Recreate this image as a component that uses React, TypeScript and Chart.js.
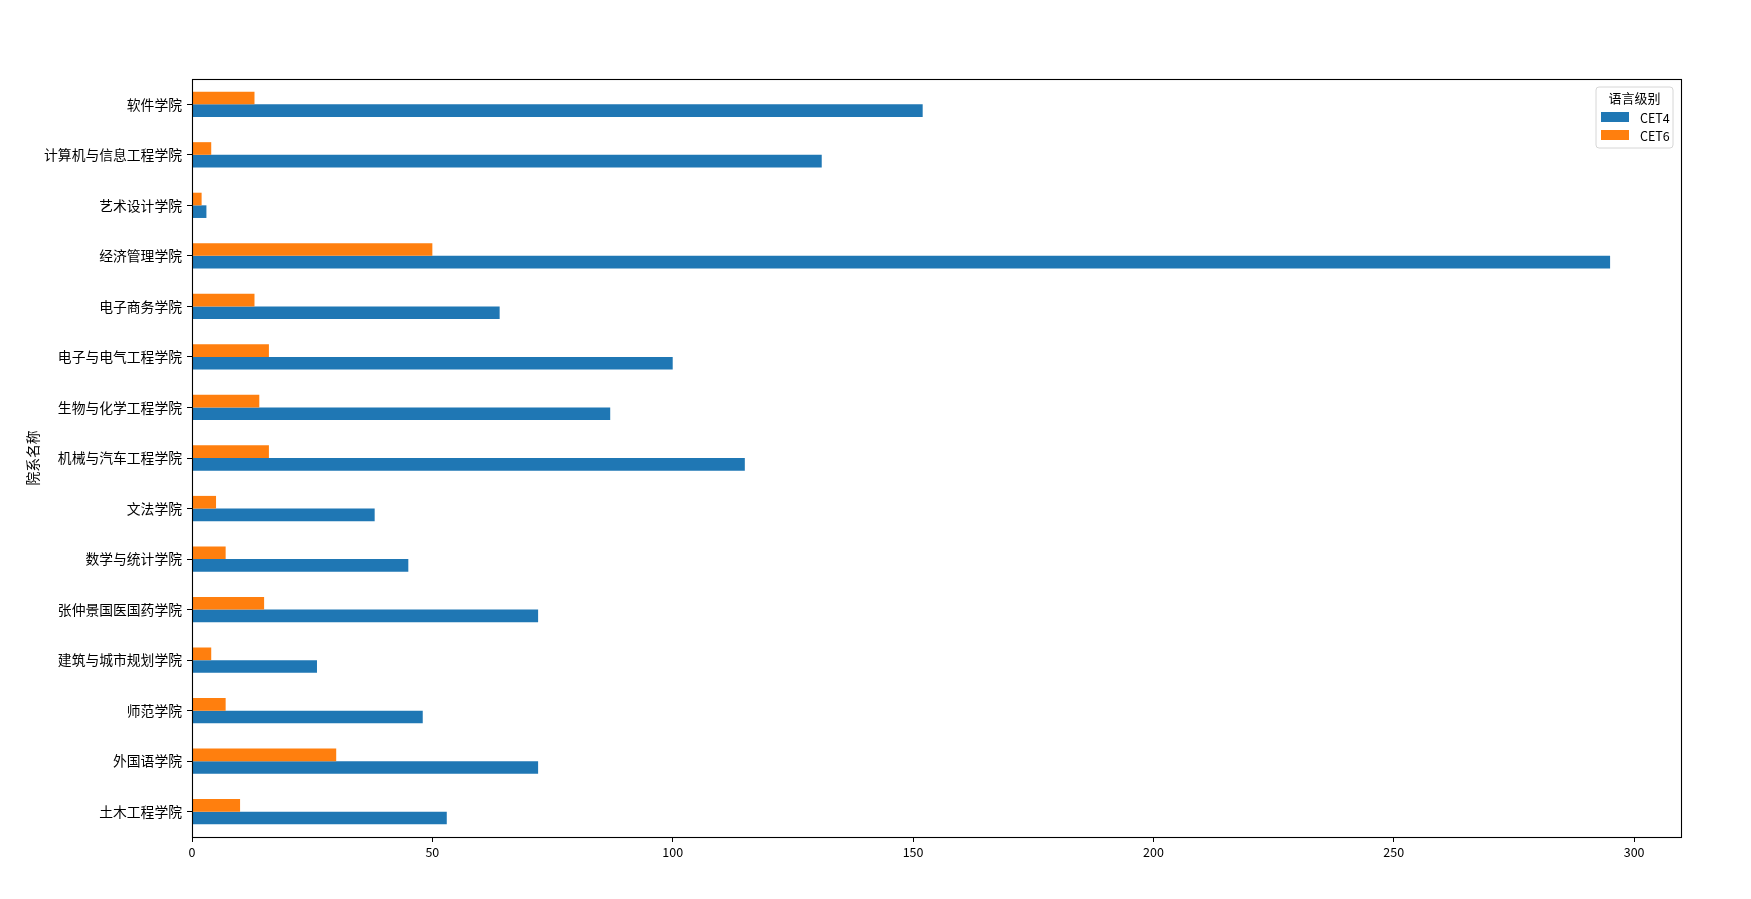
import React, { useEffect, useRef } from "react";
import { Chart, registerables } from "chart.js";

Chart.register(...registerables);

// Categories in data order (bottom to top as drawn)
const colleges: string[] = [
  "土木工程学院",
  "外国语学院",
  "师范学院",
  "建筑与城市规划学院",
  "张仲景国医国药学院",
  "数学与统计学院",
  "文法学院",
  "机械与汽车工程学院",
  "生物与化学工程学院",
  "电子与电气工程学院",
  "电子商务学院",
  "经济管理学院",
  "艺术设计学院",
  "计算机与信息工程学院",
  "软件学院",
];

const cet4: number[] = [53, 72, 48, 26, 72, 45, 38, 115, 87, 100, 64, 295, 3, 131, 152];
const cet6: number[] = [10, 30, 7, 4, 15, 7, 5, 16, 14, 16, 13, 50, 2, 4, 13];

const seriesNames: string[] = ["CET4", "CET6"];
const seriesColors: string[] = ["#1f77b4", "#ff7f0e"];
const xTicks: number[] = [0, 50, 100, 150, 200, 250, 300];
const legendTitle = "语言级别";
const yTitle = "院系名称";

const FONT = "'Noto Sans CJK SC', 'DejaVu Sans', sans-serif";

const framePlugin = {
  id: "frameAndLegend",
  afterDraw(chart: any) {
    const ctx = chart.ctx as CanvasRenderingContext2D;
    const a = chart.chartArea;
    ctx.save();
    ctx.strokeStyle = "#000";
    ctx.lineWidth = 1.1;
    ctx.strokeRect(a.left + 0.5, a.top + 0.5, a.right - a.left, a.bottom - a.top);

    // legend box (matplotlib style, upper right inside axes)
    const bx = a.right - 85;
    const by = a.top + 8;
    const bw = 77;
    const bh = 61;
    const r = 3;
    ctx.beginPath();
    ctx.moveTo(bx + r, by);
    ctx.lineTo(bx + bw - r, by);
    ctx.quadraticCurveTo(bx + bw, by, bx + bw, by + r);
    ctx.lineTo(bx + bw, by + bh - r);
    ctx.quadraticCurveTo(bx + bw, by + bh, bx + bw - r, by + bh);
    ctx.lineTo(bx + r, by + bh);
    ctx.quadraticCurveTo(bx, by + bh, bx, by + bh - r);
    ctx.lineTo(bx, by + r);
    ctx.quadraticCurveTo(bx, by, bx + r, by);
    ctx.closePath();
    ctx.fillStyle = "rgba(255,255,255,0.8)";
    ctx.fill();
    ctx.strokeStyle = "#d6d6d6";
    ctx.lineWidth = 1;
    ctx.stroke();

    ctx.fillStyle = "#000";
    ctx.font = `13px ${FONT}`;
    ctx.textAlign = "center";
    ctx.textBaseline = "middle";
    ctx.fillText(legendTitle, bx + bw / 2, by + 11);

    seriesNames.forEach((name, i) => {
      const cy = by + 30 + i * 18;
      ctx.fillStyle = seriesColors[i];
      ctx.fillRect(bx + 5, cy - 5, 28, 10);
      ctx.fillStyle = "#000";
      ctx.textAlign = "left";
      ctx.font = `12.5px ${FONT}`;
      ctx.fillText(name, bx + 44, cy + 1);
    });
    ctx.restore();
  },
};

export default function App() {
  const ref = useRef<HTMLCanvasElement | null>(null);

  useEffect(() => {
    if (!ref.current) return;
    const series = [
      { name: seriesNames[1], data: cet6, color: seriesColors[1] },
      { name: seriesNames[0], data: cet4, color: seriesColors[0] },
    ];
    const chart = new Chart(ref.current, {
      type: "bar",
      data: {
        labels: colleges,
        datasets: series.map((s) => ({
          label: s.name,
          data: s.data,
          backgroundColor: s.color,
          borderWidth: 0,
          categoryPercentage: 0.5,
          barPercentage: 1.0,
        })),
      },
      options: {
        indexAxis: "y",
        animation: false,
        responsive: false,
        devicePixelRatio: 1,
        layout: { padding: { top: 79, right: 70, left: 0, bottom: 0 } },
        plugins: {
          legend: { display: false },
          tooltip: { enabled: false },
          title: { display: false },
        },
        scales: {
          x: {
            type: "linear",
            min: 0,
            max: 309.75,
            afterBuildTicks: (scale: any) => {
              scale.ticks = xTicks.map((v) => ({ value: v }));
            },
            afterFit: (scale: any) => {
              scale.height = 62;
            },
            ticks: {
              color: "#000",
              font: { family: FONT, size: 12.5 },
              padding: 3,
              maxRotation: 0,
            },
            grid: {
              display: true,
              drawOnChartArea: false,
              drawTicks: true,
              tickLength: 5,
              tickColor: "#000",
              color: "#000",
            },
            border: { display: true, color: "#000", width: 1 },
          },
          y: {
            type: "category",
            reverse: true,
            offset: true,
            afterFit: (scale: any) => {
              scale.width = 192;
            },
            ticks: {
              color: "#000",
              font: { family: FONT, size: 13.8 },
              padding: 5,
              autoSkip: false,
            },
            grid: {
              display: true,
              drawOnChartArea: false,
              drawTicks: true,
              tickLength: 5,
              tickColor: "#000",
              offset: false,
            },
            border: { display: true, color: "#000", width: 1 },
            title: {
              display: true,
              text: yTitle,
              color: "#000",
              font: { family: FONT, size: 13.8 },
              padding: { top: 24, bottom: 0 },
            },
          },
        },
      },
      plugins: [framePlugin],
    });
    return () => chart.destroy();
  }, []);

  return (
    <div style={{ position: "absolute", left: 0, top: 0, width: 1751, height: 899, background: "#fff" }}>
      <canvas ref={ref} width={1751} height={899} style={{ width: 1751, height: 899, display: "block" }} />
    </div>
  );
}
